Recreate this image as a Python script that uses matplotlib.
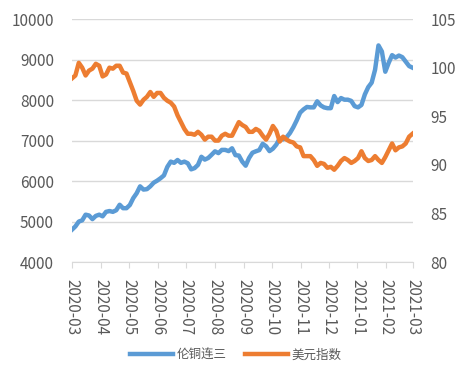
import matplotlib
matplotlib.use('Agg')
import matplotlib.pyplot as plt
import matplotlib.dates as mdates
import pandas as pd

plt.rcParams['font.family'] = ['Noto Sans CJK SC', 'DejaVu Sans']

# sample dates (about every 3.65 days, Mar 2020 - Mar 2021)
dates = pd.date_range('2020-03-01', '2021-03-01', periods=101)

# LME copper 3M (left axis)
copper = [4800, 4880, 5000, 5030, 5170, 5150, 5060, 5140, 5170, 5130,
          5240, 5260, 5240, 5280, 5415, 5330, 5330, 5410, 5580, 5700,
          5870, 5790, 5800, 5870, 5960, 6010, 6070, 6140, 6350, 6480,
          6450, 6520, 6450, 6480, 6440, 6290, 6320, 6400, 6600, 6530,
          6570, 6650, 6735, 6690, 6770, 6770, 6740, 6810, 6640, 6630,
          6480, 6380, 6570, 6700, 6735, 6765, 6920, 6860, 6740, 6800,
          6900, 7050, 7030, 7080, 7185, 7330, 7500, 7690, 7770, 7830,
          7820, 7820, 7970, 7870, 7820, 7800, 7800, 8100, 7950, 8050,
          8010, 8010, 7980, 7850, 7820, 7880, 8140, 8320, 8430, 8750,
          9350, 9200, 8700, 8920, 9110, 9050, 9100, 9060, 8950, 8840,
          8800]

# US dollar index (right axis)
dxy = [98.9, 99.2, 100.5, 100.0, 99.2, 99.7, 99.9, 100.4, 100.2, 99.1,
       99.3, 100.0, 99.9, 100.2, 100.2, 99.5, 99.4, 98.5, 97.6, 96.6,
       96.2, 96.7, 97.0, 97.5, 97.0, 97.4, 97.4, 96.9, 96.6, 96.4,
       96.0, 95.1, 94.4, 93.7, 93.2, 93.2, 93.1, 93.4, 93.1, 92.6,
       92.9, 92.9, 92.5, 92.5, 93.0, 93.2, 93.0, 93.0, 93.7, 94.4,
       94.1, 93.9, 93.4, 93.4, 93.7, 93.5, 93.0, 92.6, 93.2, 94.0,
       93.5, 92.4, 92.9, 92.6, 92.4, 92.3, 91.9, 91.8, 90.9, 90.9,
       90.9, 90.5, 89.9, 90.2, 90.1, 89.7, 89.8, 89.5, 89.9, 90.4,
       90.7, 90.5, 90.2, 90.4, 90.7, 91.4, 90.7, 90.4, 90.5, 90.9,
       90.5, 90.2, 90.8, 91.5, 92.2, 91.5, 91.8, 91.9, 92.2, 92.9,
       93.2]

fig = plt.figure(figsize=(4.72, 3.82), dpi=100)
ax = fig.add_axes([0.1525, 0.314, 0.7215, 0.636])
ax2 = ax.twinx()

line1, = ax.plot(dates, copper, color='#5B9BD5', linewidth=3.2, label='伦铜连三', zorder=3)
line2, = ax2.plot(dates, dxy, color='#ED7D31', linewidth=3.2, label='美元指数', zorder=3)

# axes limits and ticks
ax.set_ylim(4000, 10000)
ax.set_yticks(range(4000, 10001, 1000))
ax2.set_ylim(80, 105)
ax2.set_yticks(range(80, 106, 5))
ax.set_xlim(dates[0], dates[-1])
ax.xaxis.set_major_locator(mdates.MonthLocator())
ax.xaxis.set_major_formatter(mdates.DateFormatter('%Y-%m'))

# grid and spines like Excel
ax.grid(axis='y', color='#D9D9D9', linewidth=1)
ax.set_axisbelow(True)
for a in (ax, ax2):
    for s in ['top', 'left', 'right']:
        a.spines[s].set_visible(False)
    a.spines['bottom'].set_color('#D9D9D9')
ax2.spines['bottom'].set_visible(False)

ax.tick_params(axis='y', length=0, pad=13, labelsize=11, labelcolor='#595959')
ax2.tick_params(axis='y', length=0, pad=13, labelsize=11, labelcolor='#595959')
ax.tick_params(axis='x', length=4, color='#D9D9D9', pad=8, labelsize=11,
               labelcolor='#595959', labelrotation=270)

fig.legend(handles=[line1, line2], loc='center', bbox_to_anchor=(0.5, 0.07),
           ncol=2, frameon=False, fontsize=9, handlelength=3.4,
           columnspacing=1.5, handletextpad=0.3, labelcolor='#595959')

plt.savefig('out.png', dpi=100)
